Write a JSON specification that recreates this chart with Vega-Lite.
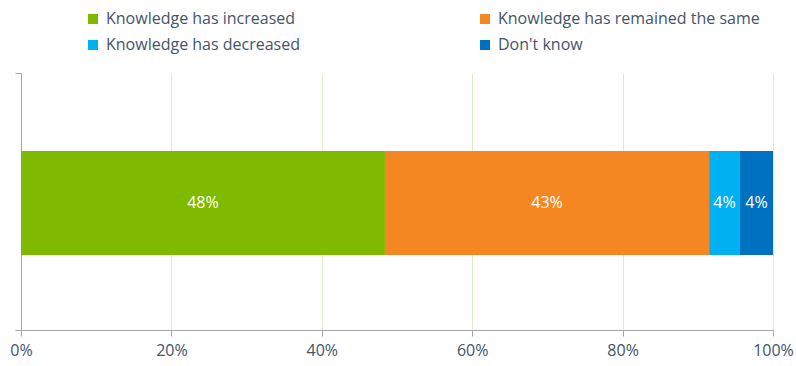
{
  "$schema": "https://vega.github.io/schema/vega-lite/v6.json",
  "autosize": "none",
  "width": 752,
  "height": 257,
  "padding": {"left": 21, "top": 73, "right": 23, "bottom": 36},
  "background": "white",
  "config": {
    "view": {"stroke": null},
    "font": "Open Sans"
  },
  "data": {
    "values": [
      {"group": "All", "answer": "Knowledge has increased", "share": 0.484, "rank": 1},
      {"group": "All", "answer": "Knowledge has remained the same", "share": 0.431, "rank": 2},
      {"group": "All", "answer": "Knowledge has decreased", "share": 0.041, "rank": 3},
      {"group": "All", "answer": "Don't know", "share": 0.044, "rank": 4}
    ]
  },
  "transform": [
    {"stack": "share", "groupby": ["group"], "sort": [{"field": "rank", "order": "ascending"}], "as": ["s0", "s1"]},
    {"calculate": "(datum.s0 + datum.s1) / 2", "as": "mid"}
  ],
  "layer": [
    {
      "mark": {"type": "bar", "height": {"band": 0.405}, "yOffset": 1.5},
      "encoding": {
        "y": {
          "field": "group",
          "type": "nominal",
          "scale": {"paddingInner": 0, "paddingOuter": 0},
          "axis": {
            "title": null,
            "labels": false,
            "domainColor": "#a6a6a6",
            "tickColor": "#a6a6a6",
            "tickSize": 6,
            "tickBand": "extent",
            "grid": false
          }
        },
        "x": {
          "field": "s0",
          "type": "quantitative",
          "scale": {"domain": [0, 1], "nice": false},
          "axis": {
            "title": null,
            "format": ".0%",
            "values": [0, 0.2, 0.4, 0.6, 0.8, 1],
            "grid": true,
            "gridColor": "#dcedc8",
            "gridWidth": 1,
            "domainColor": "#a6a6a6",
            "tickColor": "#a6a6a6",
            "tickSize": 6,
            "labelFontSize": 16,
            "labelColor": "#44546a",
            "labelPadding": 6,
            "labelFlush": false,
            "labelFont": "Open Sans"
          }
        },
        "x2": {"field": "s1"},
        "color": {
          "field": "answer",
          "type": "nominal",
          "sort": ["Knowledge has increased", "Knowledge has remained the same", "Knowledge has decreased", "Don't know"],
          "scale": {
            "domain": ["Knowledge has increased", "Knowledge has remained the same", "Knowledge has decreased", "Don't know"],
            "range": ["#7fba00", "#f58723", "#00b0f0", "#0070c0"]
          },
          "legend": {
            "title": null,
            "orient": "none",
            "direction": "horizontal",
            "legendX": 64,
            "legendY": -62,
            "columns": 2,
            "columnPadding": 176,
            "rowPadding": 10,
            "padding": 0,
            "symbolType": "square",
            "symbolSize": 100,
            "symbolStrokeWidth": 0,
            "labelFontSize": 16,
            "labelColor": "#44546a",
            "labelFont": "Open Sans",
            "labelOffset": 5,
            "labelLimit": 400
          }
        }
      }
    },
    {
      "mark": {"type": "text", "color": "white", "fontSize": 16, "font": "Open Sans", "yOffset": 1.5},
      "encoding": {
        "y": {"field": "group", "type": "nominal"},
        "x": {"field": "mid", "type": "quantitative"},
        "text": {"field": "share", "type": "quantitative", "format": ".0%"}
      }
    }
  ]
}
